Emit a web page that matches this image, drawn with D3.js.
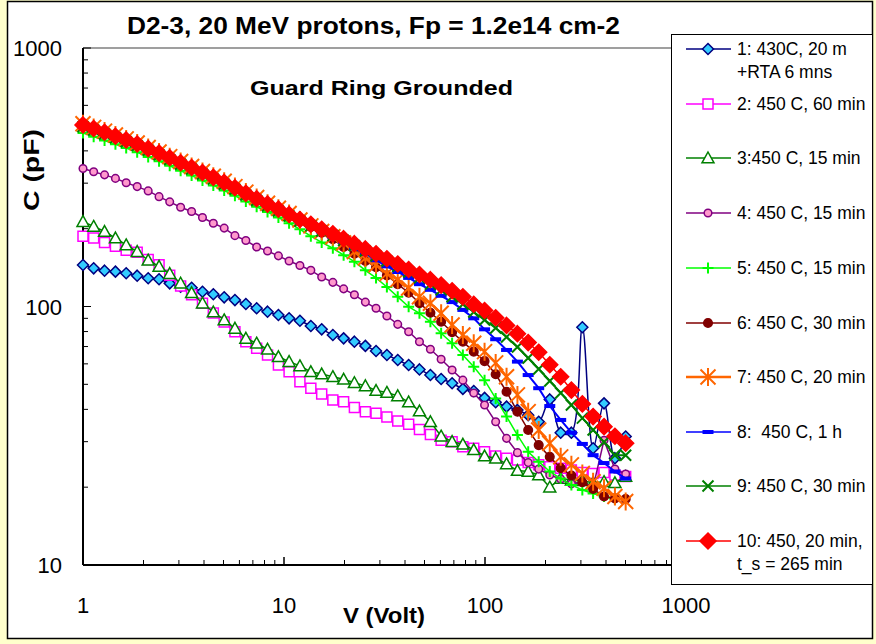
<!DOCTYPE html>
<html>
<head>
<meta charset="utf-8">
<script src="https://cdn.jsdelivr.net/npm/d3@7"></script>
<style>
body { margin: 0; background: #ffffcc; }
svg { display: block; font-family: Arial, 'Liberation Sans', sans-serif; }
</style>
</head>
<body>
<script>
// measurement voltages (same steps for every run)
var volts = [1, 1.13, 1.28, 1.45, 1.64, 1.86, 2.11, 2.39, 2.7, 3.06, 3.47, 3.93, 4.45, 5.04, 5.7, 6.46, 7.31, 8.28, 9.38,
  10.6, 12, 13.6, 15.4, 17.5, 19.8, 22.4, 25.4, 28.7, 32.5, 36.8, 41.7, 47.2, 53.5, 60.5, 68.6, 77.6, 87.9, 99.5,
  113, 128, 145, 164, 185, 210, 238, 269, 305, 345, 391, 443, 501];

var cap1 = [144.7, 140.5, 137.6, 136.4, 134.4, 131.6, 128.6, 127.4, 122.9, 119.3, 118.2, 114.1, 111.5, 108.5, 105.9,
  102.2, 98.4, 95.5, 92.7, 90.0, 88.1, 84.1, 81.6, 77.6, 75.3, 73.1, 70.4, 67.3, 64.9, 62.1, 59.4, 57.1, 54.3, 52.4,
  50.5, 48.0, 47.1, 44.3, 42.6, 41.0, 39.8, 38.0, 35.8, 43.7, 32.5, 32.5, 83.1, 28.3, 42.2, 25.9, 31.4];
var cap2 = [187, 184, 177, 171, 165, 162, 152, 145, 132, 120, 111, 103, 94.4, 87.1, 79.9, 73.1, 68.9, 64.9, 59.4, 55.9,
  51.2, 48.3, 45.9, 43.5, 42.8, 40.7, 39.2, 38.6, 37.4, 36.1, 35.0, 33.4, 32.0, 30.4, 30.0, 28.7, 28.3, 27.4, 26.4,
  25.9, 25.5, 24.9, 24.4, 24.0, 23.7, 23.3, 22.8, 22.6, 22.8, 22.3, 22.0];
var cap3 = [213, 204, 195, 184, 173, 163, 151, 143, 134, 123, 113, 103, 95.2, 88.7, 82.3, 75.3, 72.1, 68.3, 63.9, 61.2,
  58.9, 55.9, 54.8, 53.5, 52.3, 50.7, 49.3, 47.3, 46.5, 45.1, 42.7, 39.4, 35.8, 31.5, 30.0, 29.3, 27.9, 26.4, 25.9,
  24.6, 23.2, 23.0, 22.3, 20.0, 21.6, 21.3, 21.2, 20.8, 21.0, 20.8, 22.0];
var cap4 = [342, 332, 323, 313, 301, 291, 280, 266, 254, 242, 233, 221, 210, 201, 188, 180, 170, 164, 157, 150,
  144, 138, 130, 124, 117, 111, 104, 98.4, 91.9, 85.3, 79.9, 73.1, 68.3, 62.5, 56.8, 51.9, 46.3, 41.6, 35.8, 30.9,
  27.2, 24.9, 23.5, 22.3, 21.5, 20.6, 20.9, 20.0, 30.4, 23.5, 22.5];
var cap5 = [469, 454, 439, 424, 410, 395, 379, 365, 350, 335, 321, 307, 294, 281, 268, 255, 243, 232, 221, 210,
  199, 187, 177, 168, 158, 149, 138, 129, 119, 109, 99.8, 94.1, 87.3, 78.8, 72.1, 64.9, 58.5, 51.9, 44.1, 37.5,
  31.8, 27.4, 25.1, 23.0, 21.6, 20.4, 19.5, 18.9, 18.4, 18.0];
var cap6 = [499, 483, 467, 451, 437, 421, 404, 388, 372, 356, 342, 327, 313, 299, 285, 271, 258, 247, 236, 226,
  214, 203, 193, 182, 170, 160, 150, 142, 132, 122, 113, 103, 94.6, 87.3, 79.5, 73.1, 66.9, 61.5, 54.7, 46.8,
  39.2, 33.3, 29.1, 26.2, 23.7, 22.2, 20.9, 19.7, 18.4, 18.1, 18.0];
var cap7 = [509, 493, 477, 461, 445, 429, 412, 396, 380, 364, 348, 333, 319, 305, 291, 277, 264, 251, 240, 229,
  216, 205, 195, 186, 176, 163, 154, 145, 134, 127, 118, 109, 103, 94.1, 84.8, 77.6, 72.1, 66.9, 60.5, 53.5,
  45.5, 39.2, 33.3, 29.6, 26.2, 24.4, 22.6, 21.0, 19.8, 18.4, 17.6];
var cap8 = [500, 485, 468, 452, 437, 421, 404, 388, 373, 357, 342, 327, 313, 299, 285, 271, 258, 246, 235, 224,
  213, 204, 195, 186, 178, 168, 160, 151, 143, 136, 129, 122, 116, 110, 104, 97.0, 90.0, 81.6, 74.7, 67.9,
  61.2, 54.3, 48.3, 41.2, 36.4, 32.5, 29.4, 26.6, 24.8, 23.0, 21.6];
var cap9 = [496, 481, 465, 449, 434, 419, 402, 386, 370, 355, 340, 325, 311, 297, 284, 270, 257, 245, 234, 224,
  214, 205, 196, 188, 180, 172, 164, 157, 150, 143, 136, 129, 122, 116, 109, 102, 95.2, 88.7, 82.6, 76.2,
  69.7, 63.2, 57.3, 51.5, 46.3, 41.6, 37.0, 33.3, 29.9, 26.6, 26.6];
var cap10 = [504, 488, 472, 456, 441, 425, 408, 392, 376, 360, 345, 330, 316, 302, 288, 274, 261, 249, 238, 227,
  217, 208, 199, 191, 183, 175, 167, 160, 153, 146, 139, 133, 127, 121, 115, 109, 102, 96.5, 90.5, 84.5,
  78.5, 72.5, 66.5, 59.5, 53.5, 47.5, 42, 37.5, 34.3, 31.5, 29.6];

var legendLabels = [
  ['1: 430C, 20 m', '+RTA 6 mns'],
  ['2: 450 C, 60 min'],
  ['3:450 C, 15 min'],
  ['4: 450 C, 15 min'],
  ['5: 450 C, 15 min'],
  ['6: 450 C, 30 min'],
  ['7: 450 C, 20 min'],
  ['8:  450 C, 1 h'],
  ['9: 450 C, 30 min'],
  ['10: 450, 20 min,', 't_s = 265 min']
];
var xTicks = [1, 10, 100, 1000];
var yTicks = [10, 100, 1000];

var allCaps = [cap1, cap2, cap3, cap4, cap5, cap6, cap7, cap8, cap9, cap10];

// look of each run: line colour, marker shape, marker fill
var styles = [
  {color: '#000080', marker: 'diamond', size: 5.5, fill: '#33ccff', width: 1.5, smooth: true},
  {color: '#ff00ff', marker: 'square', size: 5, fill: '#ffffff', width: 1.5},
  {color: '#008000', marker: 'triangle', size: 6, fill: '#ffffff', width: 1.5},
  {color: '#800080', marker: 'circle', size: 3.8, fill: '#ff99cc', width: 1.5},
  {color: '#00ff00', marker: 'plus', size: 5.5, fill: 'none', width: 1.5},
  {color: '#800000', marker: 'circle', size: 4.3, fill: '#800000', width: 1.5},
  {color: '#ff6600', marker: 'star', size: 7.5, fill: 'none', width: 2.5},
  {color: '#0000ff', marker: 'dash', size: 5.5, fill: '#0000ff', width: 2},
  {color: '#008000', marker: 'cross', size: 5.5, fill: 'none', width: 2},
  {color: '#ff0000', marker: 'diamond', size: 8, fill: '#ff0000', width: 1.5}
];

var width = 876, height = 644;
var plot = {left: 83, top: 48, right: 686, bottom: 565};

var svg = d3.select('body').append('svg')
  .attr('width', width)
  .attr('height', height);

svg.append('rect')
  .attr('x', 0).attr('y', 0).attr('width', width).attr('height', height)
  .attr('fill', '#ffffcc');
svg.append('rect')
  .attr('x', 7.5).attr('y', 1.5).attr('width', 865).attr('height', 637)
  .attr('fill', '#ffffff').attr('stroke', '#000').attr('stroke-width', 1.5);

var x = d3.scaleLog().domain([1, 1000]).range([plot.left, plot.right]);
var y = d3.scaleLog().domain([10, 1000]).range([plot.bottom, plot.top]);

// plot frame (grey top / right edges)
svg.append('path')
  .attr('d', `M${plot.left},${plot.top}H${plot.right}V${plot.bottom}`)
  .attr('fill', 'none').attr('stroke', '#808080').attr('stroke-width', 1.5);

drawAxes();
drawSeries();
drawLegend();
drawTexts();

function minorValues(lo, hi) {
  var out = [];
  for (var d = lo; d < hi; d *= 10) {
    for (var k = 1; k <= 10; k++) out.push(d * k);
  }
  return out;
}

function drawAxes() {
  var g = svg.append('g');
  var yv = minorValues(10, 1000);
  g.selectAll('.ytick').data(yv).enter().append('line')
    .attr('x1', plot.left).attr('x2', d => plot.left + (yTicks.indexOf(d) >= 0 ? 8 : 5))
    .attr('y1', d => y(d)).attr('y2', d => y(d))
    .attr('stroke', '#000').attr('stroke-width', 1);
  var xv = minorValues(1, 1000);
  g.selectAll('.xtick').data(xv).enter().append('line')
    .attr('y1', plot.bottom).attr('y2', d => plot.bottom - (xTicks.indexOf(d) >= 0 ? 8 : 5))
    .attr('x1', d => x(d)).attr('x2', d => x(d))
    .attr('stroke', '#000').attr('stroke-width', 1);
  g.append('line')
    .attr('x1', plot.left).attr('x2', plot.left)
    .attr('y1', plot.top).attr('y2', plot.bottom)
    .attr('stroke', '#000').attr('stroke-width', 2);
  g.append('line')
    .attr('x1', plot.left).attr('x2', plot.right)
    .attr('y1', plot.bottom).attr('y2', plot.bottom)
    .attr('stroke', '#000').attr('stroke-width', 2);

  g.selectAll('.ylab').data(yTicks).enter().append('text')
    .attr('x', 62).attr('y', d => y(d) + 8)
    .attr('text-anchor', 'end').attr('font-size', 22)
    .text(d => d);
  g.selectAll('.xlab').data(xTicks).enter().append('text')
    .attr('x', d => x(d)).attr('y', 613)
    .attr('text-anchor', 'middle').attr('font-size', 22)
    .text(d => d);
}

function markerPath(type, s) {
  switch (type) {
    case 'diamond': return `M0,${-s}L${s},0L0,${s}L${-s},0Z`;
    case 'square': return `M${-s},${-s}H${s}V${s}H${-s}Z`;
    case 'triangle': return `M0,${-s}L${s},${s * 0.8}H${-s}Z`;
    case 'plus': return `M${-s},0H${s}M0,${-s}V${s}`;
    case 'cross': return `M${-s},${-s}L${s},${s}M${-s},${s}L${s},${-s}`;
    case 'star': return `M${-s},${-s}L${s},${s}M${-s},${s}L${s},${-s}M0,${-s * 1.2}V${s * 1.2}`;
    case 'dash': return `M${-s},-2H${s}V2H${-s}Z`;
    default: return '';
  }
}

function drawMarker(g, st, cx, cy) {
  if (st.marker === 'circle') {
    g.append('circle').attr('cx', cx).attr('cy', cy).attr('r', st.size)
      .attr('fill', st.fill).attr('stroke', st.color).attr('stroke-width', 1.5);
  } else {
    var open = st.marker === 'plus' || st.marker === 'cross' || st.marker === 'star';
    g.append('path')
      .attr('d', markerPath(st.marker, st.size))
      .attr('transform', `translate(${cx},${cy})`)
      .attr('fill', open ? 'none' : st.fill)
      .attr('stroke', st.marker === 'dash' ? 'none' : st.color)
      .attr('stroke-width', open ? 2 : 1.5);
  }
}

function drawSeries() {
  allCaps.forEach((caps, i) => {
    var st = styles[i];
    var pts = caps.map((c, j) => ({v: volts[j], c: c}));
    var g = svg.append('g').attr('class', 'series-' + (i + 1));
    var line = d3.line().x(d => x(d.v)).y(d => y(d.c));
    if (st.smooth) line.curve(d3.curveCatmullRom.alpha(0.5));
    g.append('path').datum(pts)
      .attr('d', line)
      .attr('fill', 'none').attr('stroke', st.color).attr('stroke-width', st.width);
    pts.forEach(d => drawMarker(g, st, x(d.v), y(d.c)));
  });
}

function drawLegend() {
  var g = svg.append('g');
  g.append('rect')
    .attr('x', 671.5).attr('y', 34.5).attr('width', 201).attr('height', 550)
    .attr('fill', '#fff').attr('stroke', '#000').attr('stroke-width', 1);
  var rowY = [49, 104, 158, 213, 268, 323, 377, 432, 486, 541];
  legendLabels.forEach((lab, i) => {
    var st = styles[i];
    var cy = rowY[i];
    g.append('line').attr('x1', 686).attr('x2', 731).attr('y1', cy).attr('y2', cy)
      .attr('stroke', st.color).attr('stroke-width', st.width > 2 ? 2.5 : 1.5);
    drawMarker(g, st, 708, cy);
    lab.forEach((t, k) => {
      g.append('text')
        .attr('x', 737).attr('y', cy + 6 + k * 23)
        .attr('font-size', 17.5)
        .attr('xml:space', 'preserve')
        .text(t);
    });
  });
}

function drawTexts() {
  svg.append('text')
    .attr('x', 127).attr('y', 34)
    .attr('font-size', 23).attr('font-weight', 'bold')
    .attr('textLength', 493).attr('lengthAdjust', 'spacingAndGlyphs')
    .text('D2-3, 20 MeV protons, Fp = 1.2e14 cm-2');
  svg.append('text')
    .attr('x', 250).attr('y', 95)
    .attr('font-size', 21).attr('font-weight', 'bold')
    .attr('textLength', 263).attr('lengthAdjust', 'spacingAndGlyphs')
    .text('Guard Ring Grounded');
  svg.append('text')
    .attr('transform', 'translate(39,170) rotate(-90)')
    .attr('text-anchor', 'middle')
    .attr('font-size', 22).attr('font-weight', 'bold')
    .attr('textLength', 82).attr('lengthAdjust', 'spacingAndGlyphs')
    .text('C (pF)');
  svg.append('text')
    .attr('x', 384).attr('y', 623)
    .attr('text-anchor', 'middle')
    .attr('font-size', 22).attr('font-weight', 'bold')
    .attr('textLength', 82).attr('lengthAdjust', 'spacingAndGlyphs')
    .text('V (Volt)');
}
</script>
</body>
</html>
